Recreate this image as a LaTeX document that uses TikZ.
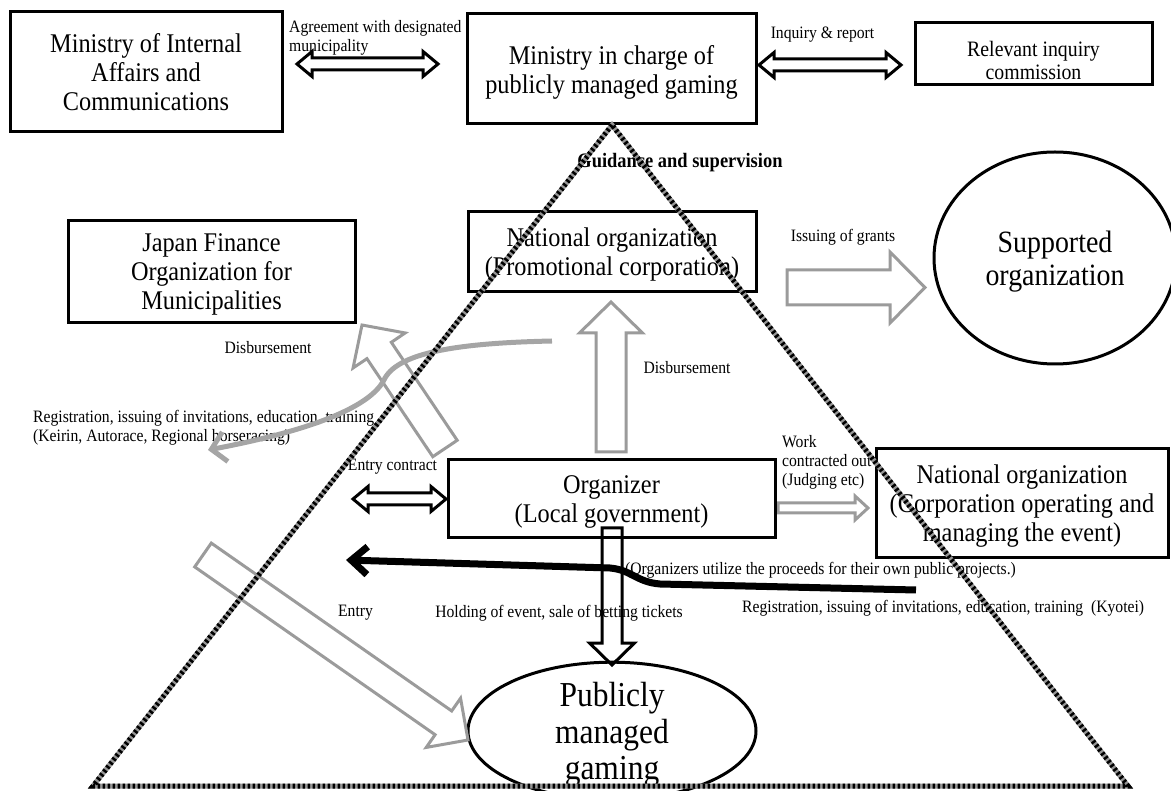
\documentclass[tikz,border=0pt]{standalone}
\usepackage{fontspec}
\setmainfont{Liberation Serif}[FakeStretch=0.9]
\usetikzlibrary{calc,shapes.geometric,arrows.meta}
\definecolor{arrowgray}{RGB}{155,155,155}
\definecolor{curvegray}{RGB}{165,165,165}
\definecolor{dotgray}{RGB}{150,150,150}
\newcommand{\bigf}{\fontsize{27}{29}\selectfont}
\newcommand{\smf}{\fontsize{17.4}{19}\selectfont}
\newcommand{\blkarrow}[6]{%
 \coordinate (bh) at ($(#3)!#6!(#2)$);
 \draw[#1] ($(#2)!#4!90:(#3)$) -- ($(bh)!#4!90:(#3)$) -- ($(bh)!#5!90:(#3)$) -- (#3) -- ($(bh)!#5!-90:(#3)$) -- ($(bh)!#4!-90:(#3)$) -- ($(#2)!#4!-90:(#3)$) -- cycle;}
\newcommand{\dblarrow}[6]{%
 \coordinate (ha) at ($(#2)!#6!(#3)$);
 \coordinate (hb) at ($(#3)!#6!(#2)$);
 \draw[#1] (#2) -- ($(ha)!#5!90:(#3)$) -- ($(ha)!#4!90:(#3)$) -- ($(hb)!#4!90:(#3)$) -- ($(hb)!#5!90:(#3)$) -- (#3) -- ($(hb)!#5!-90:(#3)$) -- ($(hb)!#4!-90:(#3)$) -- ($(ha)!#4!-90:(#3)$) -- ($(ha)!#5!-90:(#3)$) -- cycle;}
\begin{document}
\begin{tikzpicture}[x=1pt,y=-1pt,
 box/.style={draw, line width=3pt, inner sep=0pt, align=center, font=\bigf, text depth=0pt},
 lbl/.style={inner sep=0pt, font=\smf, align=center},
 garrow/.style={draw=arrowgray, line width=3pt, fill=white, line join=miter},
 karrow/.style={draw=black, line width=3pt, fill=white, line join=miter},
 kline/.style={draw=black, line width=3pt, line join=miter}]
\useasboundingbox (0,0) rectangle (1171,791);

% ---- boxes ----
\node[box, minimum width=272pt, minimum height=120pt] (miac) at (146,72) {Ministry of Internal\\Affairs and\\Communications};
\node[box, minimum width=289pt, minimum height=110pt] (ming) at (611.5,69) {Ministry in charge of\\publicly managed gaming};
\node[box, minimum width=237pt, minimum height=62pt] (rel) at (1033.5,54) {};
\node[inner sep=0pt, align=center, font=\fontsize{22}{23}\selectfont] (reltxt) at (1033.5,60) {Relevant inquiry\\commission};
\node[box, minimum width=287pt, minimum height=102pt] (jfm) at (211.5,272) {Japan Finance\\Organization for\\Municipalities};
\node[box, minimum width=288pt, minimum height=80pt] (promo) at (612,252) {National organization\\(Promotional corporation)};
\node[box, minimum width=292pt, minimum height=109pt] (corp) at (1022,503.5) {National organization\\(Corporation operating and\\managing the event)};
\node[draw, ellipse, line width=3pt, inner sep=0pt, minimum width=242pt, minimum height=212pt, align=center, text depth=0pt, font=\fontsize{31}{33}\selectfont] (supp) at (1055,258) {Supported\\organization};
\node[draw, ellipse, line width=3pt, inner sep=0pt, minimum width=288pt, minimum height=126pt, align=center, text depth=0pt, font=\fontsize{35}{36.5}\selectfont] (pmg) at (612,731) {Publicly\\managed\\gaming};

% ---- labels ----
\node[lbl, anchor=west, align=left] (lblagree) at (289,37.5) {Agreement with designated\\municipality};
\node[lbl] (lblinq) at (822.5,35) {Inquiry \& report};
\node[lbl, font=\fontsize{20.5}{22}\selectfont\bfseries] (lblguid) at (680,163) {Guidance and supervision};
\node[lbl] (lblgrants) at (843,237) {Issuing of grants};
\node[lbl] (lbldisb1) at (268,348) {Disbursement};
\node[lbl] (lbldisb2) at (687,368) {Disbursement};
\node[lbl, anchor=west, align=left] (lblregk) at (33,427.5) {Registration, issuing of invitations, education, training\\(Keirin, Autorace, Regional horseracing)};
\node[lbl] (lblentryc) at (392.5,467) {Entry contract};
\node[lbl, anchor=west, align=left] (lblwork) at (782,462) {Work\\contracted out\\(Judging etc)};
\node[lbl, anchor=west] (lblorgs) at (625,570) {(Organizers utilize the proceeds for their own public projects.)};
\node[lbl, anchor=west] (lblregky) at (742,608) {Registration, issuing of invitations, education, training\ \ (Kyotei)};
\node[lbl] (lblentry) at (355.5,613) {Entry};
\node[lbl] (lblhold) at (559,613) {Holding of event, sale of betting tickets};

% ---- arrow end points ----
\coordinate (a1s) at (297,64);   \coordinate (a1e) at (438,64);
\coordinate (a2s) at (759,65);   \coordinate (a2e) at (901,65);
\coordinate (a3s) at (353,499);  \coordinate (a3e) at (446,499);
\coordinate (g1s) at (787,287.5); \coordinate (g1e) at (925,287.5);
\coordinate (g2s) at (611,452);  \coordinate (g2e) at (611,302);
\coordinate (g3s) at (445,448.5); \coordinate (g3e) at (362,325);
\coordinate (g4s) at (778,508);  \coordinate (g4e) at (868,508);
\coordinate (g5s) at (203,555);  \coordinate (g5e) at (468,740);
\coordinate (k1s) at (612,528);  \coordinate (k1e) at (612,665);
\coordinate (gc1) at (552,341);  \coordinate (gc2) at (208,450);
\coordinate (bc1) at (916,590);  \coordinate (bc2) at (346,560);

% ---- double arrows ----
\dblarrow{karrow}{a1s}{a1e}{6pt}{12.5pt}{15pt}
\dblarrow{karrow}{a2s}{a2e}{6pt}{12.5pt}{15pt}
\dblarrow{karrow}{a3s}{a3e}{6pt}{12.5pt}{15pt}

% ---- gray block arrows ----
\blkarrow{garrow}{g1s}{g1e}{17.5pt}{35.5pt}{35pt}
\blkarrow{garrow}{g2s}{g2e}{15pt}{31.5pt}{31pt}
\blkarrow{garrow}{g3s}{g3e}{14.7pt}{31.4pt}{30.7pt}
\blkarrow{garrow}{g4s}{g4e}{5pt}{12pt}{13pt}
\blkarrow{garrow}{g5s}{g5e}{14.5pt}{30pt}{30pt}

% ---- organizer and black block arrow ----
\node[box, minimum width=327pt, minimum height=78pt] (org) at (611.5,499) {Organizer\\(Local government)};
\blkarrow{kline}{k1s}{k1e}{10pt}{22.5pt}{22pt}

% ---- curved arrows ----
\draw[curvegray, line width=5pt, -{Straight Barb[length=14pt,width=30pt]}] (gc1) .. controls (460,343) and (400,352) .. (385,378) .. controls (376,398) and (340,425) .. (gc2);
\draw[black, line width=7pt, -{Straight Barb[length=16pt,width=28pt]}] (bc1) -- (660,584) .. controls (636,582) and (632,570) .. (610,568) -- (bc2);

% ---- dotted triangle ----
\coordinate (tA) at (612,125);
\coordinate (tL) at (93,786);
\coordinate (tR) at (1128,786);
\draw[dotgray, line width=5pt, line join=miter] (tA) -- (tL) -- (tR) -- cycle;
\draw[black, line width=5pt, dash pattern=on 2.5pt off 2.5pt] (tA) -- (tL) -- (tR) -- cycle;
\end{tikzpicture}
\end{document}
